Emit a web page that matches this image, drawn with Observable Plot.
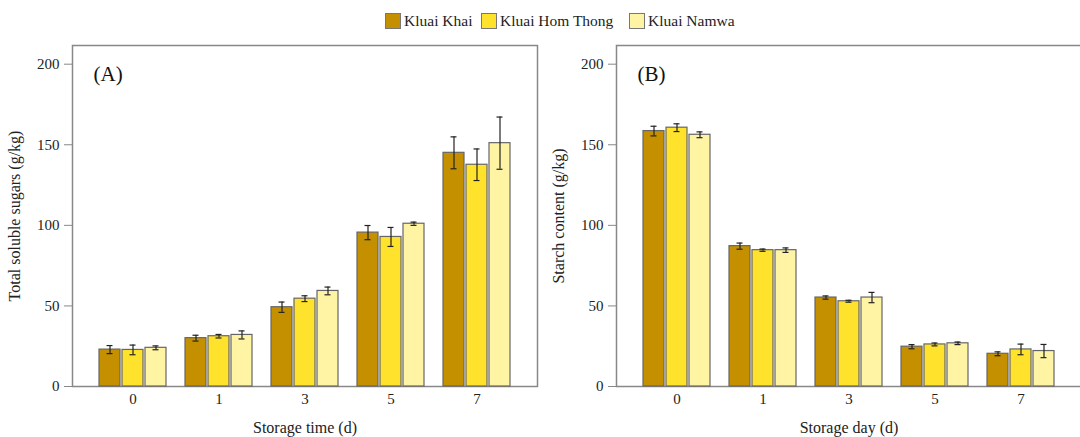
<!DOCTYPE html>
<html><head><meta charset="utf-8">
<script src="https://cdn.jsdelivr.net/npm/d3@7"></script>
<script src="https://cdn.jsdelivr.net/npm/@observablehq/plot@0.6"></script>
<style>
body{margin:0;background:#fff;width:1080px;height:437px;overflow:hidden;font-family:"Liberation Serif","Times New Roman",serif;color:#222;}
#legend{height:38px;position:relative;}
.item{position:absolute;top:13px;display:flex;align-items:center;font-size:15.5px;line-height:16px;}
.sw{width:14px;height:14px;border:1px solid #777;margin-right:3px;}
#charts{display:flex;width:1088px;}
.panel{position:relative;width:544px;height:399px;flex:none;}
.panel svg{position:absolute;left:0;top:0;overflow:visible;}
</style></head><body>
<div id="legend"></div><div id="charts"></div>
<script>
const days = ["0", "1", "3", "5", "7"];
const cultivars = ["Kluai Khai", "Kluai Hom Thong", "Kluai Namwa"];
// Total soluble sugars (g/kg)
const sugarKhai = [22.9, 30.0, 49.2, 95.5, 145.0];
const sugarKhaiErr = [2.5, 1.8, 3.2, 4.4, 9.9];
const sugarHomThong = [22.7, 31.2, 54.5, 92.8, 137.6];
const sugarHomThongErr = [3.0, 1.1, 1.8, 5.9, 9.8];
const sugarNamwa = [24.0, 32.0, 59.3, 101.0, 151.0];
const sugarNamwaErr = [1.2, 2.5, 2.4, 1.0, 16.2];
// Starch content (g/kg)
const starchKhai = [158.5, 87.1, 55.2, 24.7, 20.3];
const starchKhaiErr = [3.0, 1.9, 1.0, 1.3, 1.2];
const starchHomThong = [160.6, 84.6, 52.9, 26.1, 23.0];
const starchHomThongErr = [2.4, 0.7, 0.6, 0.9, 3.3];
const starchNamwa = [156.2, 84.6, 55.2, 26.8, 22.0];
const starchNamwaErr = [1.8, 1.4, 3.2, 0.8, 4.1];
const yTicks = [0, 50, 100, 150, 200];

const colors = ["#C49000", "#FFE22B", "#FFF4A4"];

function rows(series, errs) {
  const out = [];
  days.forEach((d, i) => cultivars.forEach((c, j) => out.push({day: d, cultivar: c, v: series[j][i], e: errs[j][i]})));
  return out;
}
const sugarRows = rows([sugarKhai, sugarHomThong, sugarNamwa], [sugarKhaiErr, sugarHomThongErr, sugarNamwaErr]);
const starchRows = rows([starchKhai, starchHomThong, starchNamwa], [starchKhaiErr, starchHomThongErr, starchNamwaErr]);

// legend
const legend = document.getElementById("legend");
const legendX = [385, 481, 629];
cultivars.forEach((c, i) => {
  const it = document.createElement("div");
  it.className = "item"; it.style.left = legendX[i] + "px";
  it.innerHTML = `<div class="sw" style="background:${colors[i]}"></div><span>${c}</span>`;
  legend.appendChild(it);
});

const W = 544, H = 399, ML = 72, MR = 7, MT = 7, MB = 51;
const yDomain = [0, 211.6];
const font = {fontFamily: "Liberation Serif, Times New Roman, serif", fontSize: "15px", color: "#222", background: "transparent"};
const bandPad = {paddingInner: 0.2, paddingOuter: 0.28};

function panel(data, ylabel, xlabel, tag) {
  const holder = document.createElement("div");
  holder.className = "panel";
  document.getElementById("charts").appendChild(holder);

  // axes, frame and panel tag
  const base = Plot.plot({
    width: W, height: H, marginLeft: ML, marginRight: MR, marginTop: MT, marginBottom: MB,
    style: font,
    x: {type: "band", domain: days, ...bandPad, tickSize: 0, tickPadding: 7, label: xlabel, labelAnchor: "center", labelOffset: 46},
    y: {domain: yDomain, ticks: yTicks, tickSize: 8, tickPadding: 5, label: ylabel, labelAnchor: "center", labelOffset: 64, labelArrow: "none"},
    marks: [
      Plot.frame({stroke: "#888", strokeWidth: 1.5}),
      Plot.text([tag], {frameAnchor: "top-left", textAnchor: "start", lineAnchor: "middle", dx: 21, dy: 29, fontSize: 21, fill: "#111"})
    ]
  });
  const s = d3.select(base);
  s.selectAll('[aria-label="y-axis tick"]').attr("stroke", "#888");
  s.selectAll('[aria-label="y-axis label"] text, [aria-label="x-axis label"] text').style("font-size", "16px");
  holder.appendChild(base);

  // grouped bars with error bars
  const bars = Plot.plot({
    width: W, height: H, marginLeft: ML, marginRight: MR, marginTop: MT, marginBottom: MB,
    style: font,
    fx: {domain: days, ...bandPad, axis: null, label: null},
    x: {domain: cultivars, axis: null, paddingInner: 0.085, paddingOuter: 0},
    y: {domain: yDomain, axis: null},
    color: {domain: cultivars, range: colors},
    marks: [
      Plot.barY(data, {fx: "day", x: "cultivar", y: "v", fill: "cultivar", stroke: "#666", strokeWidth: 1.2}),
      Plot.ruleX(data, {fx: "day", x: "cultivar", y1: d => d.v - d.e, y2: d => d.v + d.e, stroke: "#222", strokeWidth: 1.2}),
      Plot.tickY(data, {fx: "day", x: "cultivar", y: d => d.v + d.e, stroke: "#222", strokeWidth: 1.2, insetLeft: 7.5, insetRight: 7.5}),
      Plot.tickY(data, {fx: "day", x: "cultivar", y: d => d.v - d.e, stroke: "#222", strokeWidth: 1.2, insetLeft: 7.5, insetRight: 7.5})
    ]
  });
  holder.appendChild(bars);
}
panel(sugarRows, "Total soluble sugars (g/kg)", "Storage time (d)", "(A)");
panel(starchRows, "Starch content (g/kg)", "Storage day (d)", "(B)");
</script>
</body></html>
